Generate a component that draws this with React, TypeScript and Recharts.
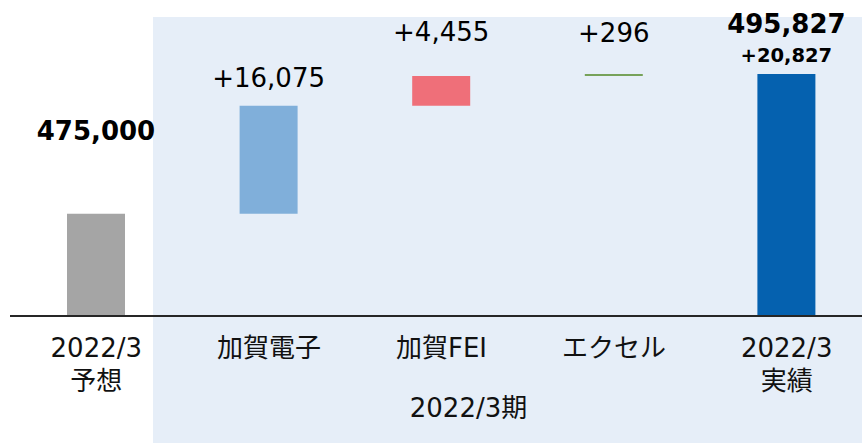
import { BarChart, Bar, XAxis, YAxis, Cell, LabelList, Label } from "recharts"

const categoryTop = ["2022/3", "加賀電子", "加賀FEI", "エクセル", "2022/3"]
const categoryBottom = ["予想", "", "", "", "実績"]
const forecast = 475000
const deltas = [16075, 4455, 296]
const actual = 495827
const yDomain = [459800, 504300]
const groupLabel = "2022/3期"

const fmt = (n: number) => n.toLocaleString("en-US")

// waterfall: transparent base + visible part
const bases = [0, ...deltas.map((_, i) => forecast + deltas.slice(0, i).reduce((a, b) => a + b, 0)), 0]
const values = [forecast, ...deltas, actual]
const labels = [fmt(forecast), ...deltas.map((d) => "+" + fmt(d)), fmt(actual)]
const subLabel = "+" + fmt(actual - forecast)

const data = categoryTop.map((name, i) => ({
  name,
  sub: categoryBottom[i],
  base: bases[i],
  value: values[i],
  label: labels[i],
}))

const colors = ["#A5A5A5", "#80AFDA", "#EF6F79", "#77A25A", "#0561AF"]
const labelOffset = [-83, -28, -44, -41, -50]
const bold = [true, false, false, false, true]
const numFont = "'DejaVu Sans', Verdana, sans-serif"
const jpFont = "'DejaVu Sans', 'Noto Sans CJK JP', sans-serif"

function BarLabel(props: any) {
  const { x, y, width, value } = props
  const i = labels.indexOf(value)
  const cx = x + width / 2
  const cy = y + labelOffset[i]
  return (
    <g>
      <text
        x={cx}
        y={cy}
        textAnchor="middle"
        dominantBaseline="central"
        fontFamily={numFont}
        fontSize={26}
        fontWeight={bold[i] ? 700 : 400}
        fill="#000"
      >
        {value}
      </text>
      {i === values.length - 1 && (
        <text
          x={cx}
          y={y - 18}
          textAnchor="middle"
          dominantBaseline="central"
          fontFamily={numFont}
          fontSize={19.5}
          fontWeight={700}
          fill="#000"
        >
          {subLabel}
        </text>
      )}
    </g>
  )
}

function Tick(props: any) {
  const { x, y, payload, index } = props
  return (
    <g>
      <text x={x} y={y + 41} textAnchor="middle" fontFamily={jpFont} fontSize={26} fill="#111">
        {payload.value}
      </text>
      <text x={x} y={y + 74} textAnchor="middle" fontFamily={jpFont} fontSize={26} fill="#111">
        {categoryBottom[index]}
      </text>
    </g>
  )
}

export default function App() {
  return (
    <div style={{ position: "absolute", left: 0, top: 0, width: 862, height: 443, overflow: "hidden", background: "#fff" }}>
      <div style={{ position: "absolute", left: 153, top: 17, right: 0, bottom: 0, background: "#E6EEF8" }} />
      <div style={{ position: "absolute", left: 0, top: 0 }}>
        <BarChart width={873} height={443} data={data} margin={{ top: 17, right: 0, bottom: 17, left: 10 }} barCategoryGap={0}>
          <YAxis hide domain={yDomain} allowDataOverflow type="number" />
          <XAxis
            dataKey="name"
            height={110}
            axisLine={{ stroke: "#262626", strokeWidth: 2 }}
            tickLine={false}
            tickSize={0}
            tickMargin={0}
            interval={0}
            tick={<Tick />}
          >
            <Label value={groupLabel} position="insideBottom" offset={9} dx={27} fontFamily={jpFont} fontSize={26} fill="#111" />
          </XAxis>
          <Bar dataKey="base" stackId="w" fill="transparent" barSize={58} isAnimationActive={false} />
          <Bar dataKey="value" stackId="w" barSize={58} isAnimationActive={false}>
            {data.map((_, i) => (
              <Cell key={`c-${i}`} fill={colors[i]} />
            ))}
            <LabelList dataKey="label" content={<BarLabel />} />
          </Bar>
        </BarChart>
      </div>
    </div>
  )
}
